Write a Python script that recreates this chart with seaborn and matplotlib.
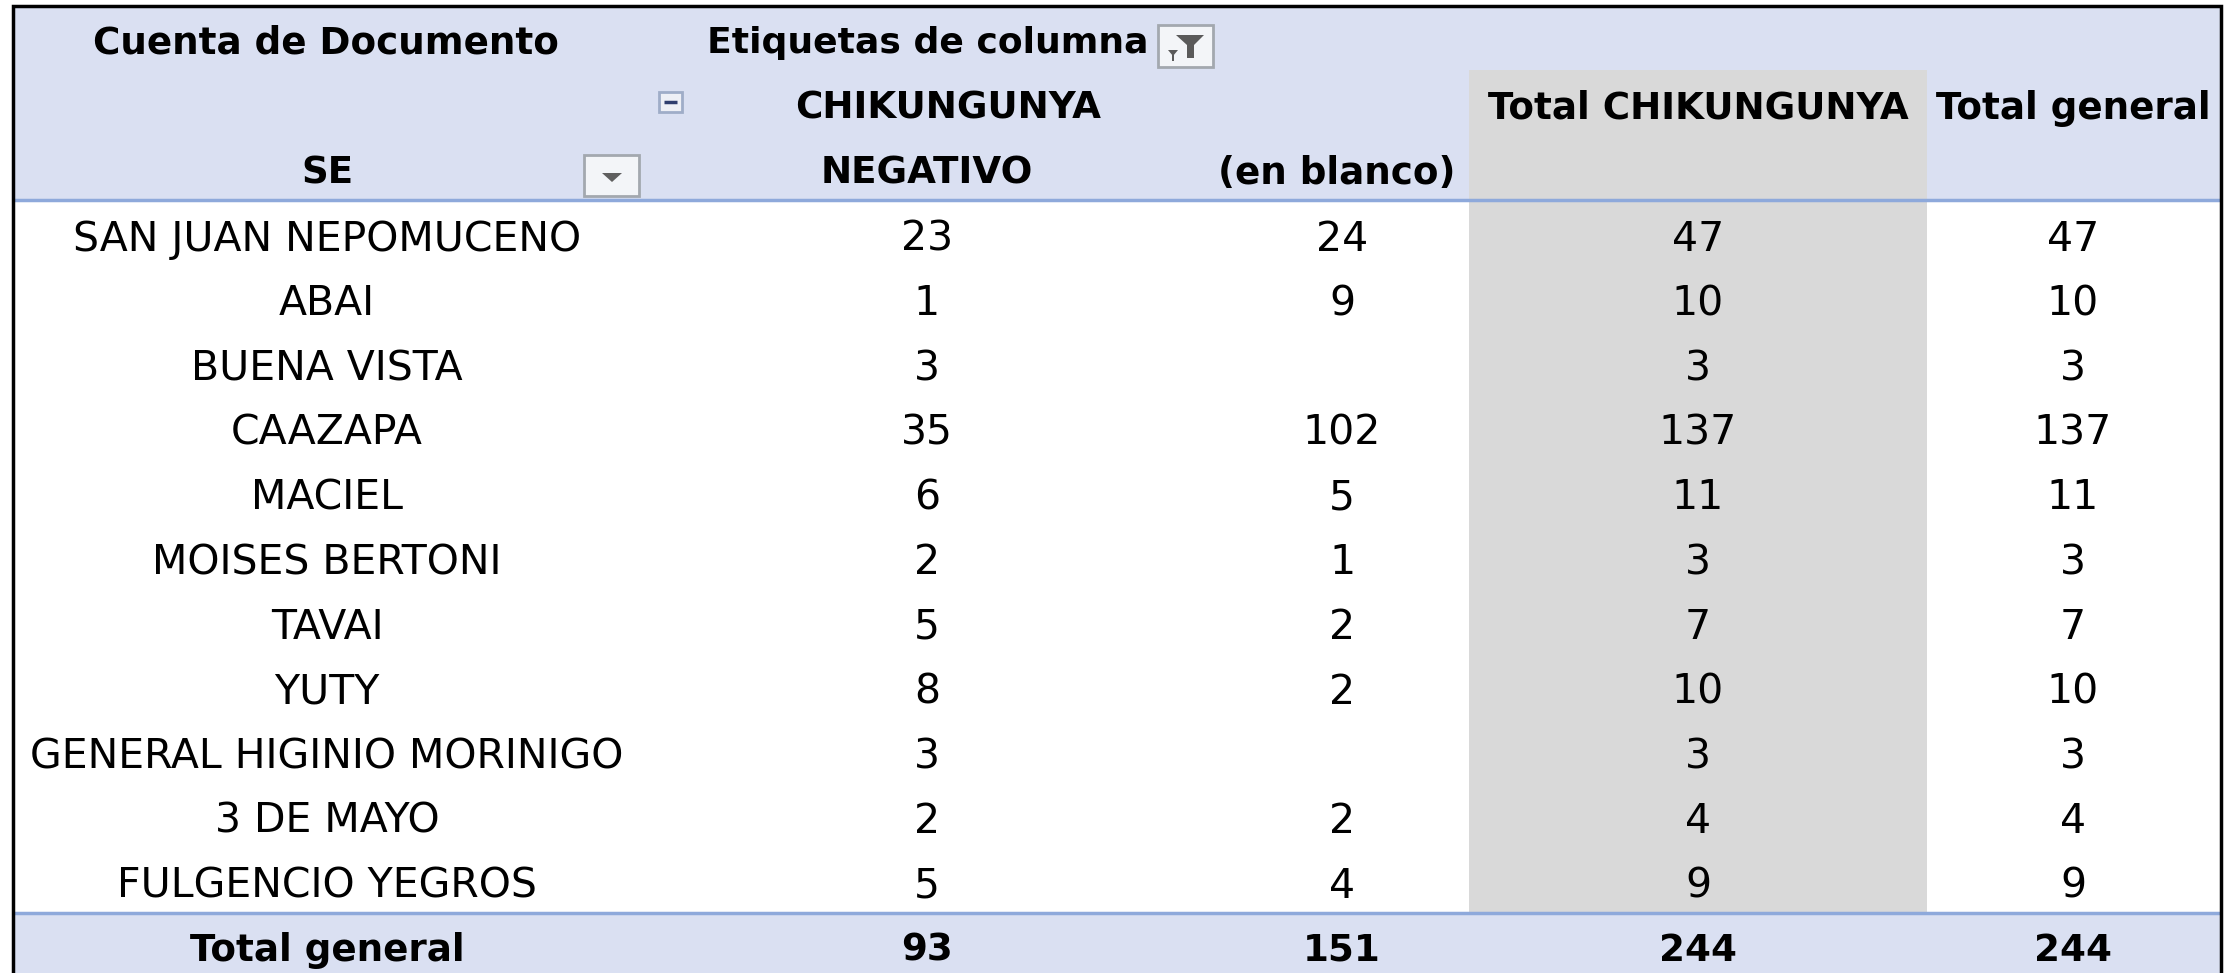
import matplotlib
matplotlib.use("Agg")
import matplotlib.pyplot as plt
from matplotlib.patches import Rectangle, Polygon
import seaborn as sns
import pandas as pd

# ---------------- data ----------------
municipios = ["SAN JUAN NEPOMUCENO", "ABAI", "BUENA VISTA", "CAAZAPA", "MACIEL",
              "MOISES BERTONI", "TAVAI", "YUTY", "GENERAL HIGINIO MORINIGO",
              "3 DE MAYO", "FULGENCIO YEGROS"]
negativo = [23, 1, 3, 35, 6, 2, 5, 8, 3, 2, 5]
en_blanco = [24, 9, None, 102, 5, 1, 2, 2, None, 2, 4]
total_chik = [47, 10, 3, 137, 11, 3, 7, 10, 3, 4, 9]
total_general = [47, 10, 3, 137, 11, 3, 7, 10, 3, 4, 9]
totales = ["93", "151", "244", "244"]

header_title = "Cuenta de Documento"
header_cols = "Etiquetas de columna"
grupo = "CHIKUNGUNYA"
sub_cols = ["NEGATIVO", "(en blanco)"]
tot_cols = ["Total CHIKUNGUNYA", "Total general"]
row_label = "SE"
total_label = "Total general"

df = pd.DataFrame({"SE": municipios, "NEGATIVO": negativo, "(en blanco)": en_blanco,
                   "Total CHIKUNGUNYA": total_chik, "Total general": total_general})

# ---------------- style ----------------
sns.set_theme(style="white")
plt.rcParams["font.family"] = ["DejaVu Sans"]
plt.rcParams["text.color"] = "black"

W, H = 2226, 973
fig = plt.figure(figsize=(W / 100, H / 100), dpi=100)
fig.patch.set_facecolor("white")
ax = fig.add_axes([0, 0, 1, 1])
ax.set_xlim(0, W)
ax.set_ylim(H, 0)
ax.axis("off")

BLUE_BG = "#DAE0F2"
GRAY = "#D9D9D9"
LINE = "#8EA9DB"

left, right, top = 13, 2221, 6
head_bottom = 200
total_top = 913
gray_x0, gray_x1, gray_y0 = 1469, 1927, 70

# backgrounds
ax.add_patch(Rectangle((left, top), right - left, head_bottom - top, fc=BLUE_BG, ec="none", zorder=0))
ax.add_patch(Rectangle((left, total_top), right - left, H - total_top + 5, fc=BLUE_BG, ec="none", zorder=0))
ax.add_patch(Rectangle((gray_x0, gray_y0), gray_x1 - gray_x0, total_top - gray_y0, fc=GRAY, ec="none", zorder=1))
ax.plot([left, right], [head_bottom, head_bottom], color=LINE, lw=2.5, zorder=2, solid_capstyle="butt")
ax.plot([left, right], [total_top, total_top], color=LINE, lw=2.5, zorder=2, solid_capstyle="butt")
# outer frame
ax.plot([left, left, right, right], [H + 5, top, top, H + 5], color="black", lw=2.5, zorder=5,
        solid_joinstyle="miter")

REG = 29.5
BOLD = 26.8
TXT = "black"
def baseline(yc, size):
    return yc + 0.365 * size * 100 / 72

col_x = {"SE": 327, "NEGATIVO": 927, "(en blanco)": 1342,
         "Total CHIKUNGUNYA": 1698, "Total general": 2073}

def btext(x, y, s, ha="center", size=BOLD):
    ax.text(x, baseline(y, size), s, ha=ha, va="baseline", fontsize=size,
            fontweight="bold", color=TXT, zorder=3)

# header texts
btext(326, 40, header_title)
btext(707, 40, header_cols, ha="left", size=26)
btext(948, 105, grupo)
for c in tot_cols:
    btext(col_x[c], 105, c)
btext(col_x["SE"], 170, row_label)
btext(col_x["NEGATIVO"], 170, sub_cols[0])
btext(1455, 170, sub_cols[1], ha="right")

# filter icon next to "Etiquetas de columna"
ax.add_patch(Rectangle((1158, 25), 55, 42, fc="#F3F5F8", ec="#A3A8AF", lw=2, zorder=3))
ax.add_patch(Polygon([[1176, 35], [1204, 35], [1194, 45], [1194, 58], [1187, 58], [1187, 45]],
                     closed=True, fc="#5A5A5A", ec="none", zorder=4))
ax.add_patch(Polygon([[1168, 50], [1178, 50], [1173, 56]], closed=True, fc="#5A5A5A", ec="none", zorder=4))
ax.add_patch(Rectangle((1172, 55), 2, 6, fc="#5A5A5A", ec="none", zorder=4))
# dropdown icon next to SE
ax.add_patch(Rectangle((584, 155), 55, 41, fc="#F3F5F8", ec="#A3A8AF", lw=2, zorder=3))
ax.add_patch(Polygon([[602, 173], [622, 173], [612, 182]], closed=True, fc="#5F5F5F", ec="none", zorder=4))
# collapse (minus) button
ax.add_patch(Rectangle((659, 92), 23, 20, fc="#EEF0F6", ec="#9FADC8", lw=2, zorder=3))
ax.plot([664, 677], [102, 102], color="#2F3E6E", lw=2.5, zorder=4, solid_capstyle="butt")

# body rows
y0, dy = 235.7, 64.7
for i, row in df.iterrows():
    yc = y0 + i * dy
    yb = baseline(yc, REG)
    ax.text(col_x["SE"], yb, row["SE"], ha="center", va="baseline", fontsize=REG, color=TXT, zorder=3)
    for c in ["NEGATIVO", "(en blanco)", "Total CHIKUNGUNYA", "Total general"]:
        v = row[c]
        if pd.notna(v):
            ax.text(col_x[c], yb, f"{int(v)}", ha="center", va="baseline", fontsize=REG,
                    color=TXT, zorder=3)

# total row
btext(col_x["SE"], 947, total_label)
for c, t in zip(["NEGATIVO", "(en blanco)", "Total CHIKUNGUNYA", "Total general"], totales):
    btext(col_x[c], 947, t)

fig.savefig("out.png", dpi=100, facecolor="white")
